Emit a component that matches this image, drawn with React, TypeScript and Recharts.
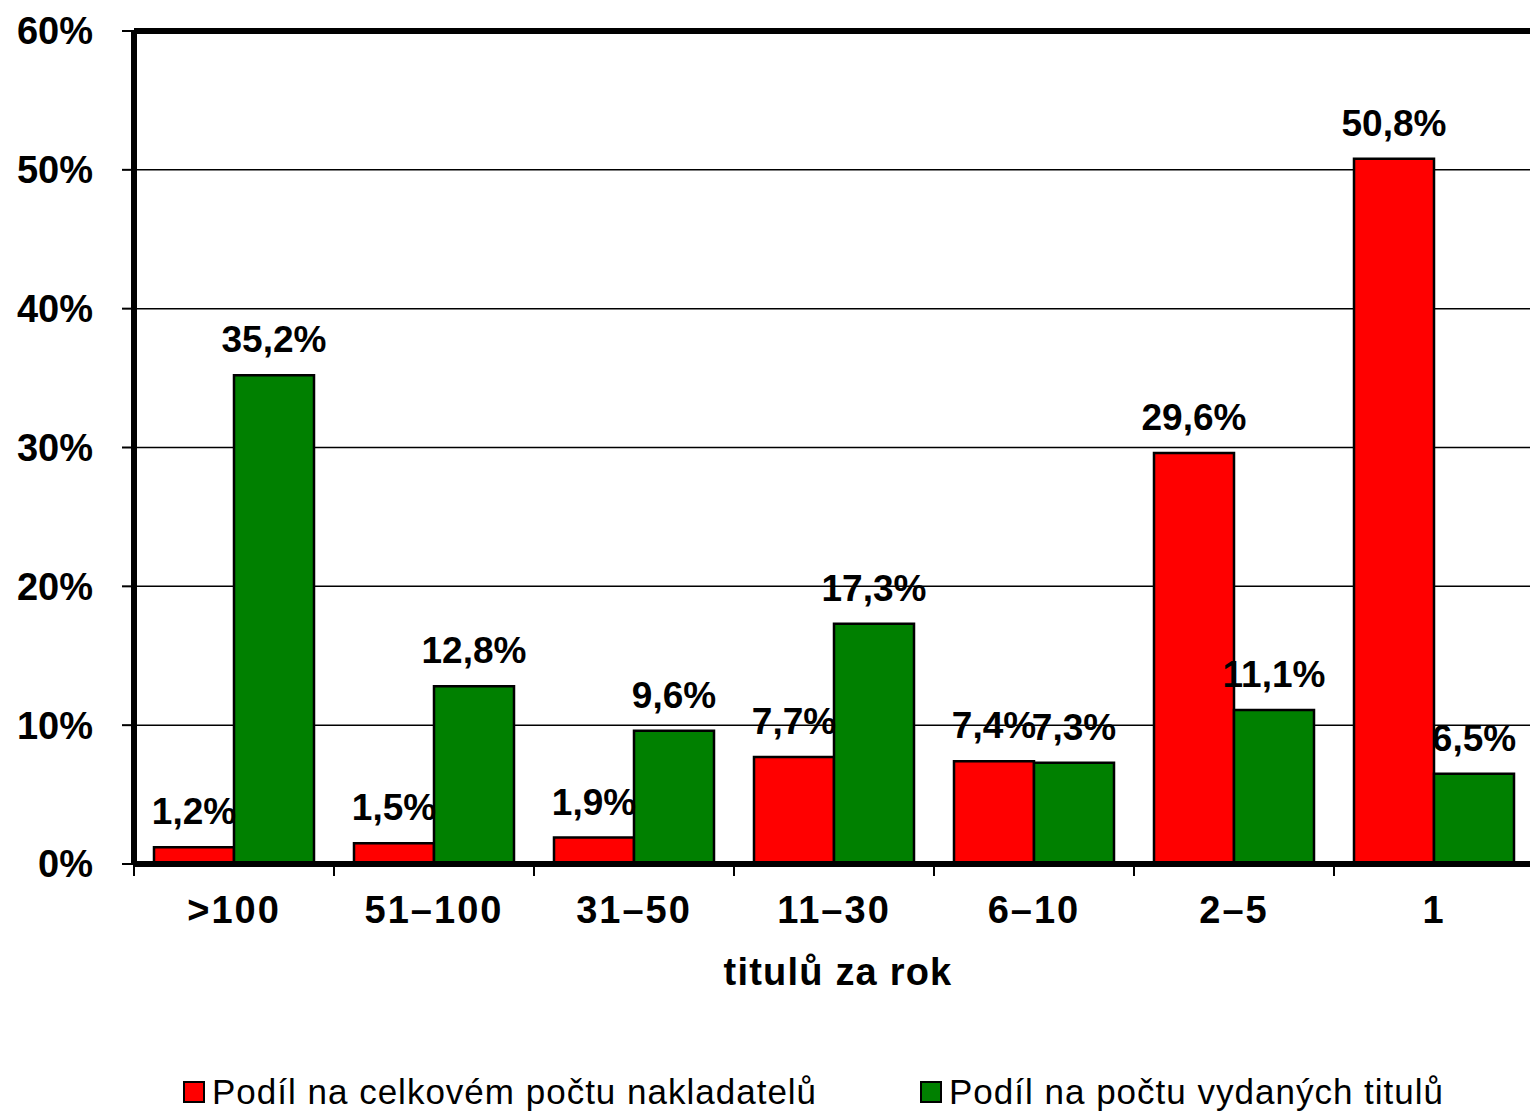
import {
  BarChart,
  Bar,
  XAxis,
  YAxis,
  CartesianGrid,
  Legend,
  LabelList,
  ReferenceLine,
  Label,
} from "recharts";

const categories = [">100", "51–100", "31–50", "11–30", "6–10", "2–5", "1"];
const publishersShare = [1.2, 1.5, 1.9, 7.7, 7.4, 29.6, 50.8];
const titlesShare = [35.2, 12.8, 9.6, 17.3, 7.3, 11.1, 6.5];
const yTicks = [0, 10, 20, 30, 40, 50, 60];

const data = categories.map((c, i) => ({
  category: c,
  publishers: publishersShare[i],
  titles: titlesShare[i],
}));

const FONT = '"Liberation Sans", Arial, sans-serif';
const fmt = (v: number) => String(v).replace(".", ",") + "%";

// tick mark sits on the category boundary (Excel style), label in the middle
function CategoryTick(props: any) {
  const { x, y, payload } = props;
  const half = payload?.offset ?? 0;
  return (
    <g>
      <line x1={x - half} x2={x - half} y1={y} y2={y + 12} stroke="#000" strokeWidth={2} />
      <text
        x={x}
        y={y + 32}
        dy="0.71em"
        textAnchor="middle"
        fill="#000"
        fontSize={38}
        fontWeight="bold"
        fontFamily={FONT}
        letterSpacing={2}
      >
        {payload.value}
      </text>
    </g>
  );
}

function LegendContent() {
  const items = [
    { left: 183, color: "#ff0000", text: "Podíl na celkovém počtu nakladatelů" },
    { left: 920, color: "#008000", text: "Podíl na počtu vydaných titulů" },
  ];
  return (
    <div style={{ position: "relative", height: 40, fontFamily: FONT }}>
      {items.map((it) => (
        <div
          key={it.text}
          style={{
            position: "absolute",
            left: it.left,
            top: 0,
            height: 40,
            display: "flex",
            alignItems: "center",
            gap: 7,
            fontSize: 35,
            letterSpacing: 1,
            color: "#000",
            whiteSpace: "nowrap",
          }}
        >
          <span
            style={{
              width: 18,
              height: 18,
              background: it.color,
              border: "2px solid #000",
              display: "inline-block",
            }}
          />
          {it.text}
        </div>
      ))}
    </div>
  );
}

export default function App() {
  return (
    <div
      style={{
        position: "absolute",
        left: 0,
        top: 0,
        width: 1530,
        height: 1112,
        overflow: "hidden",
        background: "#fff",
      }}
    >
      <BarChart
        width={1540}
        height={1112}
        data={data}
        margin={{ top: 31, right: 6, left: 0, bottom: 0 }}
        barCategoryGap={20}
        barGap={0}
      >
        <CartesianGrid vertical={false} stroke="#000" strokeWidth={1.5} />
        <XAxis
          dataKey="category"
          height={208}
          axisLine={{ stroke: "#000", strokeWidth: 6 }}
          tickLine={false}
          tickSize={0}
          tickMargin={0}
          tick={<CategoryTick />}
        >
          <Label
            value="titulů za rok"
            position="insideTop"
            offset={94}
            dx={4}
            style={{
              fill: "#000",
              fontSize: 38,
              fontWeight: "bold",
              fontFamily: FONT,
              letterSpacing: 1.2,
            }}
          />
        </XAxis>
        <YAxis
          width={134}
          domain={[0, 60]}
          ticks={yTicks}
          tickFormatter={(v) => v + "%"}
          axisLine={{ stroke: "#000", strokeWidth: 6 }}
          tickSize={12}
          tickMargin={29}
          tickLine={{ stroke: "#000", strokeWidth: 2 }}
          tick={{ fill: "#000", fontSize: 38, fontWeight: "bold", fontFamily: FONT }}
        />
        <ReferenceLine y={60} stroke="#000" strokeWidth={6} />
        <Legend verticalAlign="bottom" content={() => <LegendContent />} />
        <Bar
          dataKey="publishers"
          fill="#ff0000"
          stroke="#000"
          strokeWidth={2.5}
          isAnimationActive={false}
        >
          <LabelList
            dataKey="publishers"
            position="top"
            offset={23}
            formatter={(v: any) => fmt(v)}
            style={{ fill: "#000", fontSize: 37, fontWeight: "bold", fontFamily: FONT }}
          />
        </Bar>
        <Bar
          dataKey="titles"
          fill="#008000"
          stroke="#000"
          strokeWidth={2.5}
          isAnimationActive={false}
        >
          <LabelList
            dataKey="titles"
            position="top"
            offset={23}
            formatter={(v: any) => fmt(v)}
            style={{ fill: "#000", fontSize: 37, fontWeight: "bold", fontFamily: FONT }}
          />
        </Bar>
      </BarChart>
    </div>
  );
}
